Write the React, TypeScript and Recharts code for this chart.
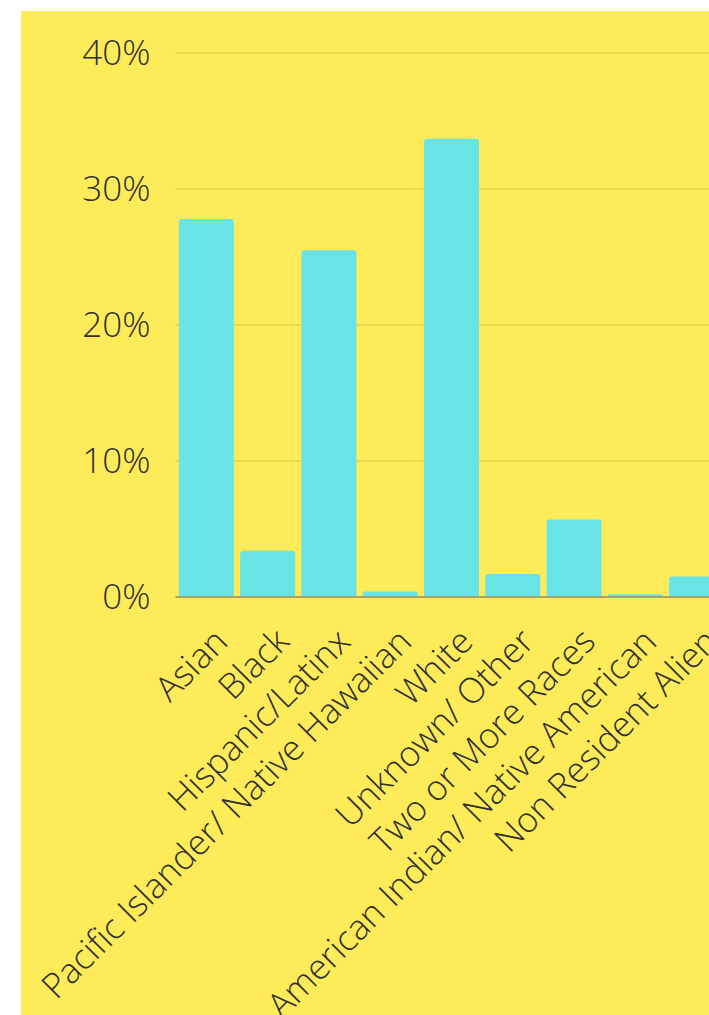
import React from 'react';
import { BarChart, Bar, XAxis, YAxis, CartesianGrid } from 'recharts';

const categories = [
  'Asian',
  'Black',
  'Hispanic/Latinx',
  'Pacific Islander/ Native Hawaiian',
  'White',
  'Unknown/ Other',
  'Two or More Races',
  'American Indian/ Native American',
  'Non Resident Alien',
];
const percents = [27.8, 3.4, 25.5, 0.4, 33.7, 1.7, 5.7, 0.2, 1.5];
const yTicks = [0, 10, 20, 30, 40];

const data = categories.map((name, i) => ({ name, value: percents[i] }));

const fontFamily = '"Open Sans", "Noto Sans", sans-serif';
const textColor = '#303030';
const yFont = { fontFamily, fontSize: 35, fill: textColor, fontWeight: 350 };

const XTick = (props: any) => {
  const { x, y, payload } = props;
  const tx = x + 6;
  const ty = y + 3;
  return (
    <text
      x={tx}
      y={ty}
      dy="0.71em"
      textAnchor="end"
      transform={`rotate(-45, ${tx}, ${ty})`}
      fontFamily={fontFamily}
      fontSize={35}
      fontWeight={350}
      fill={textColor}
    >
      {payload.value}
    </text>
  );
};

export default function App() {
  return (
    <div
      style={{
        position: 'absolute',
        left: 21,
        top: 11,
        width: 688,
        height: 1004,
        background: '#FDEB5A',
        overflow: 'hidden',
      }}
    >
      <BarChart
        width={706}
        height={1004}
        data={data}
        margin={{ top: 42, right: 0, left: 0, bottom: 0 }}
        barCategoryGap="5.5%"
      >
        <CartesianGrid vertical={false} stroke="#E6D24E" strokeWidth={1.5} />
        <XAxis
          dataKey="name"
          height={418}
          interval={0}
          tickLine={false}
          axisLine={{ stroke: '#9C9258', strokeWidth: 1.5 }}
          tick={<XTick />}
          tickSize={6}
          tickMargin={20}
        />
        <YAxis
          width={154.5}
          domain={[0, 40]}
          ticks={yTicks}
          tickFormatter={(v: number) => `${v}%`}
          axisLine={false}
          tickLine={false}
          tickSize={0}
          tickMargin={25}
          tick={yFont}
        />
        <Bar dataKey="value" fill="#68E3E6" radius={[3, 3, 0, 0]} isAnimationActive={false} />
      </BarChart>
    </div>
  );
}
